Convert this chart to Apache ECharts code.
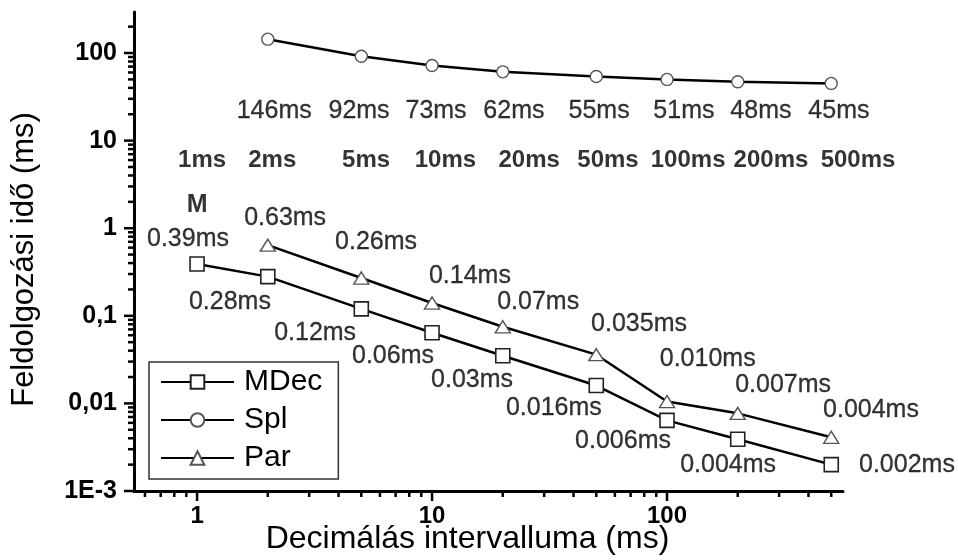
<!DOCTYPE html>
<html><head><meta charset="utf-8">
<script src="https://cdn.jsdelivr.net/npm/echarts@6/dist/echarts.min.js"></script>
<style>html,body{margin:0;padding:0;background:#fff}#c{width:958px;height:560px}</style>
</head><body><div id="c"></div>
<script>
// ---- data ----
const intervals = [1, 2, 5, 10, 20, 50, 100, 200, 500];
const splIntervals = [2, 5, 10, 20, 50, 100, 200, 500];
const mdecValues = [0.39, 0.28, 0.12, 0.064, 0.035, 0.016, 0.0064, 0.0039, 0.002];
const splValues = [144, 92, 72, 61, 54, 50, 47, 45];
const parValues = [0.64, 0.27, 0.14, 0.075, 0.036, 0.0105, 0.0077, 0.0041];

const yTickValues = [0.001, 0.01, 0.1, 1, 10, 100];
const yTickLabels = ['1E-3', '0,01', '0,1', '1', '10', '100'];
const xTickValues = [1, 10, 100];
const xTickLabels = ['1', '10', '100'];
const xMinorTicks = [0.6, 0.7, 0.8, 0.9, 2, 3, 4, 5, 6, 7, 8, 9, 20, 30, 40, 50, 60, 70, 80, 90, 200, 300, 400, 500];
const yMinorTicks = [0.002, 0.003, 0.004, 0.005, 0.006, 0.007, 0.008, 0.009,
  0.02, 0.03, 0.04, 0.05, 0.06, 0.07, 0.08, 0.09,
  0.2, 0.3, 0.4, 0.5, 0.6, 0.7, 0.8, 0.9,
  2, 3, 4, 5, 6, 7, 8, 9, 20, 30, 40, 50, 60, 70, 80, 90, 200];

const splLabels = ['146ms', '92ms', '73ms', '62ms', '55ms', '51ms', '48ms', '45ms'];
const intervalLabels = ['1ms', '2ms', '5ms', '10ms', '20ms', '50ms', '100ms', '200ms', '500ms'];
const mdecLabels = ['0.39ms', '0.28ms', '0.12ms', '0.06ms', '0.03ms', '0.016ms', '0.006ms', '0.004ms', '0.002ms'];
const parLabels = ['0.63ms', '0.26ms', '0.14ms', '0.07ms', '0.035ms', '0.010ms', '0.007ms', '0.004ms'];
const markLabel = ['M'];

// annotation anchors in data units [x, y]
const splLabelAt = [[2.13, 22], [4.89, 22], [10.4, 22], [22.3, 22], [51.4, 22], [118, 22], [251, 22], [539, 22]];
const intervalLabelAt = [[1.05, 6.0], [2.09, 6.0], [5.24, 6.0], [11.4, 6.0], [25.9, 6.0], [56.1, 6.0], [123, 6.0], [277, 6.0], [650, 6.0]];
const mdecLabelAt = [[0.915, 0.753], [1.38, 0.144], [3.18, 0.0637], [6.82, 0.0347], [14.8, 0.0185], [33, 0.00885], [65, 0.00372], [182, 0.00198], [1050, 0.00198]];
const parLabelAt = [[2.37, 1.31], [5.78, 0.695], [14.5, 0.284], [28.3, 0.144], [76, 0.0805], [149, 0.0321], [312, 0.0162], [738, 0.0084]];
const markLabelAt = [[1, 1.84]];

const X_MIN = 0.539, X_MAX = 561, Y_MIN = 0.001, Y_MAX = 294;
const FONT = 'Liberation Sans, Arial, sans-serif';

function near(a, b) { return Math.abs(Math.log10(a) - Math.log10(b)) < 1e-6; }
function labelFor(v, vals, labs) {
  for (let i = 0; i < vals.length; i++) if (near(v, vals[i])) return labs[i];
  return '';
}

function tickSeries(values, axis, len) {
  return {
    type: 'custom', coordinateSystem: 'cartesian2d', silent: true, z: 10,
    data: values.map(v => axis === 'x' ? [v, Y_MIN] : [X_MIN, v]),
    renderItem: function (params, api) {
      const p = api.coord([api.value(0), api.value(1)]);
      const shape = axis === 'x'
        ? { x1: p[0], y1: p[1], x2: p[0], y2: p[1] + len }
        : { x1: p[0], y1: p[1], x2: p[0] - len, y2: p[1] };
      return { type: 'line', shape: shape, style: { stroke: '#000', lineWidth: 2.5 } };
    }
  };
}

function annSeries(texts, at, bold, size) {
  return {
    type: 'scatter', silent: true, clip: false, z: 6,
    symbolSize: 1, itemStyle: { color: 'transparent' },
    data: texts.map((t, i) => ({ value: at[i], name: t })),
    label: {
      show: true, position: 'inside', formatter: '{b}',
      fontFamily: FONT, fontSize: size, color: '#000',
      textBorderColor: '#000', textBorderWidth: bold ? 0 : 0.3,
      fontWeight: bold ? 'bold' : 'normal'
    }
  };
}

const chart = echarts.init(document.getElementById('c'), null, { renderer: 'canvas' });
chart.setOption({
  backgroundColor: '#fff',
  animation: false,
  textStyle: { fontFamily: FONT },
  grid: { left: 134, right: 115, top: 12, bottom: 69, containLabel: false, outerBoundsMode: 'none' },
  legend: {
    data: ['MDec', 'Spl', 'Par'],
    orient: 'vertical', left: 149, top: 362,
    itemWidth: 73, itemHeight: 17, itemGap: 8,
    padding: [5, 16, 6, 11],
    borderColor: '#333', borderWidth: 1.5, borderRadius: 0,
    backgroundColor: '#fff',
    textStyle: { fontFamily: FONT, fontSize: 30, color: '#000', padding: [0, 0, 0, 5] }
  },
  xAxis: {
    type: 'log', logBase: 10, min: X_MIN, max: X_MAX,
    name: 'Decimálás intervalluma (ms)', nameLocation: 'middle', nameGap: 32,
    nameMoveOverlap: false,
    nameTextStyle: { fontFamily: FONT, fontSize: 32, color: '#000', padding: [0, 42, 0, 0] },
    axisLine: { show: true, lineStyle: { color: '#000', width: 3 } },
    axisTick: { show: false },
    minorTick: { show: false },
    splitLine: { show: false },
    axisLabel: {
      margin: 13, fontFamily: FONT, fontSize: 24, fontWeight: 'bold', color: '#000',
      showMinLabel: false, showMaxLabel: false,
      formatter: v => labelFor(v, xTickValues, xTickLabels)
    }
  },
  yAxis: {
    type: 'log', logBase: 10, min: Y_MIN, max: Y_MAX,
    name: 'Feldolgozási idő (ms)', nameLocation: 'middle', nameGap: 94,
    nameTextStyle: { fontFamily: FONT, fontSize: 31, color: '#000', padding: [0, 16, 0, 0] },
    axisLine: { show: true, lineStyle: { color: '#000', width: 3 } },
    axisTick: { show: false },
    minorTick: { show: false },
    splitLine: { show: false },
    axisLabel: {
      margin: 17, fontFamily: FONT, fontSize: 25, fontWeight: 'bold', color: '#000',
      showMinLabel: true, showMaxLabel: false,
      formatter: v => labelFor(v, yTickValues, yTickLabels)
    }
  },
  series: [
    {
      name: 'MDec', type: 'line', z: 3,
      data: intervals.map((x, i) => [x, mdecValues[i]]),
      symbol: 'rect', symbolSize: 14,
      lineStyle: { color: '#000', width: 2.5 },
      itemStyle: { color: '#fff', borderColor: '#222', borderWidth: 1.6 }
    },
    {
      name: 'Spl', type: 'line', z: 3,
      data: splIntervals.map((x, i) => [x, splValues[i]]),
      symbol: 'circle', symbolSize: 12,
      lineStyle: { color: '#000', width: 2.5 },
      itemStyle: { color: '#fff', borderColor: '#555', borderWidth: 1.4 }
    },
    {
      name: 'Par', type: 'line', z: 3,
      data: splIntervals.map((x, i) => [x, parValues[i]]),
      symbol: 'triangle', symbolSize: [15, 12],
      lineStyle: { color: '#000', width: 2.5 },
      itemStyle: { color: '#fff', borderColor: '#555', borderWidth: 1.4 }
    },
    tickSeries(xTickValues, 'x', 10),
    tickSeries(xMinorTicks, 'x', 6),
    tickSeries(yTickValues, 'y', 10),
    tickSeries(yMinorTicks, 'y', 6),
    annSeries(splLabels, splLabelAt, false, 25),
    annSeries(intervalLabels, intervalLabelAt, true, 24),
    annSeries(mdecLabels, mdecLabelAt, false, 25),
    annSeries(parLabels, parLabelAt, false, 25),
    annSeries(markLabel, markLabelAt, true, 25)
  ]
});
</script>
</body></html>
